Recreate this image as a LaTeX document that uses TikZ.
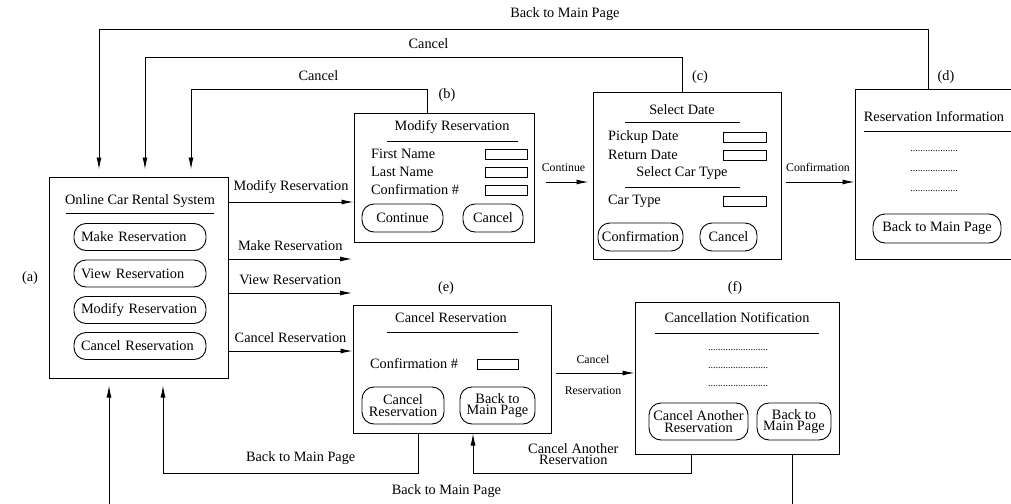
\documentclass[tikz,border=0pt]{standalone}
\usepackage{fontspec}
\setmainfont{Liberation Serif}
\usetikzlibrary{arrows.meta,positioning,calc}

\begin{document}
\begin{tikzpicture}[x=1pt, y=-1pt,
    font=\fontsize{14.3}{11.5}\selectfont,
    screen/.style={rectangle, draw=black, line width=1pt, inner sep=0pt},
    pill/.style={rectangle, draw=black, rounded corners=12pt, line width=0.9pt, align=center, inner sep=0pt},
    field/.style={rectangle, draw=black, line width=0.9pt, minimum width=42pt, minimum height=10pt, inner sep=0pt},
    item/.style={anchor=west, inner sep=0pt},
    dots/.style={font=\fontsize{10}{10}\selectfont, inner sep=0pt},
    small/.style={font=\fontsize{11.8}{12}\selectfont, inner sep=0pt},
    rule/.style={line width=1pt},
    message/.style={->, >={Latex[length=12pt,width=5pt]}, line width=0.9pt},
    lbl/.style={above=8pt, inner sep=0pt, align=center}
]
\useasboundingbox (0,0) rectangle (1011,503);

% Screens
\node[screen, minimum width=179pt, minimum height=201pt] (sysA) at (138.5,277.5) {};
\node[screen, minimum width=180pt, minimum height=129pt] (modB) at (444,177.5) {};
\node[screen, minimum width=188pt, minimum height=167pt] (dateC) at (687,175.5) {};
\node[screen, minimum width=161pt, minimum height=170pt] (infoD) at (935.5,174) {};
\node[screen, minimum width=198pt, minimum height=128pt] (cancelE) at (452,369) {};
\node[screen, minimum width=204pt, minimum height=152pt] (notifyF) at (737,378) {};

% Tags
\node (tagA) at (30,278) {(a)};
\node (tagB) at (447,95) {(b)};
\node (tagC) at (700,77) {(c)};
\node (tagD) at (946,77) {(d)};
\node (tagE) at (446,288) {(e)};
\node (tagF) at (735,288) {(f)};

% (a) main page
\node (titleA) at (140,201) {Online Car Rental System};
\draw[rule] (66,213) -- (214,213);
\node[pill, minimum width=132pt, minimum height=27pt, text width=118pt, align=left] (makeA) at (140,237) {Make Reservation};
\node[pill, minimum width=132pt, minimum height=27pt, text width=118pt, align=left] (viewA) at (140,273.5) {View Reservation};
\node[pill, minimum width=132pt, minimum height=27pt, text width=118pt, align=left] (modifyA) at (140,310) {Modify Reservation};
\node[pill, minimum width=132pt, minimum height=27pt, text width=118pt, align=left] (cancelA) at (140,346) {Cancel Reservation};

% (b) modify
\node (titleB) at (452,127) {Modify Reservation};
\draw[rule] (387,141) -- (518,141);
\node[item] (firstB) at (371,154) {First Name};
\node[item] (lastB) at (371,172) {Last Name};
\node[item] (confB) at (371,190) {Confirmation \#};
\node[field] (firstBoxB) at (506,154) {};
\node[field] (lastBoxB) at (506,172) {};
\node[field] (confBoxB) at (506,190) {};
\node[pill, minimum width=81pt, minimum height=28pt] (contB) at (402.5,218) {Continue};
\node[pill, minimum width=60pt, minimum height=28pt] (cancB) at (493,218) {Cancel};

% (c) date and car type
\node (titleC) at (682,110) {Select Date};
\draw[rule] (625,122) -- (740,122);
\node[item] (pickC) at (608,137) {Pickup Date};
\node[item] (retC) at (608,155) {Return Date};
\node (typeTitleC) at (682,173) {Select Car Type};
\draw[rule] (625,187) -- (740,187);
\node[item] (typeC) at (608,201) {Car Type};
\node[field, minimum width=43pt] (pickBoxC) at (744.5,137) {};
\node[field, minimum width=43pt] (retBoxC) at (744.5,155) {};
\node[field, minimum width=43pt] (typeBoxC) at (744.5,201) {};
\node[pill, minimum width=85pt, minimum height=28pt] (confC) at (640.5,237) {Confirmation};
\node[pill, minimum width=57pt, minimum height=28pt] (cancC) at (728.5,237) {Cancel};

% (d) reservation info
\node (titleD) at (934,117) {Reservation Information};
\draw[rule] (864,131) -- (1016,131);
\node[dots] (dotD1) at (934,151) {...................};
\node[dots] (dotD2) at (934,171) {...................};
\node[dots] (dotD3) at (934,191) {...................};
\node[pill, minimum width=128pt, minimum height=29pt] (backD) at (937,228.5) {Back to Main Page};

% (e) cancel
\node (titleE) at (451,318) {Cancel Reservation};
\draw[rule] (387,332) -- (518,332);
\node[item] (confE) at (370,364) {Confirmation \#};
\node[field, minimum width=41pt] (confBoxE) at (497.5,364) {};
\node[pill, minimum width=82pt, minimum height=37pt] (cancE) at (403,405.5) {Cancel\\Reservation};
\node[pill, minimum width=75pt, minimum height=37pt] (backE) at (497.5,405.5) {Back to\\Main Page};

% (f) notification
\node (titleF) at (737,318) {Cancellation Notification};
\draw[rule] (655,333) -- (819,333);
\node[dots] (dotF1) at (738,350) {........................};
\node[dots] (dotF2) at (738,368) {........................};
\node[dots] (dotF3) at (738,386) {........................};
\node[pill, minimum width=99pt, minimum height=37pt] (anotherF) at (698.5,421.5) {Cancel Another\\Reservation};
\node[pill, minimum width=74pt, minimum height=37pt] (backF) at (794,421.5) {Back to\\Main Page};

% Free ends
\coordinate (makeEnd) at (352,259);
\coordinate (viewEnd) at (352,293);

% Messages
\draw[message] (sysA.east |- 0,202) -- node[lbl] {Modify Reservation} (modB.west |- 0,202);
\draw[message] (sysA.east |- makeEnd) -- node[lbl] {Make Reservation} (makeEnd);
\draw[message] (sysA.east |- viewEnd) -- node[lbl] {View Reservation} (viewEnd);
\draw[message] (sysA.east |- 0,351) -- node[lbl] {Cancel Reservation} (cancelE.west |- 0,351);
\draw[message, shorten <=11pt, shorten >=4pt] (modB.east |- 0,182) -- node[small, above=10pt] {Continue} (dateC.west |- 0,182);
\draw[message, shorten <=4pt] (dateC.east |- 0,182) -- node[small, above=10pt] {Confirmation} (infoD.west |- 0,182);
\draw[message, shorten <=4pt] (cancelE.east |- 0,373) -- node[small, above=9pt] {Cancel} node[small, below=13pt] {Reservation} (notifyF.west |- 0,373);

% Returns
\draw[message, shorten >=7pt] ([xshift=-17pt]modB.north) -- ++(0,-23) -| node[lbl, pos=0.23] {Cancel} ([xshift=52.5pt]sysA.north);
\draw[message, shorten >=7pt] ([xshift=-5pt]dateC.north) -- ++(0,-34) -| node[lbl, pos=0.236] {Cancel} ([xshift=6.5pt]sysA.north);
\draw[message, shorten >=7pt] ([xshift=-7.5pt]infoD.north) -- ++(0,-59) -| node[lbl, pos=0.219] {Back to Main Page} ([xshift=-39.5pt]sysA.north);
\draw[message, shorten >=7pt] ([xshift=-34pt]cancelE.south) -- ++(0,40) -| node[lbl, pos=0.23] {Back to Main Page} ([xshift=24.5pt]sysA.south);
\draw[message] ([xshift=-46pt]notifyF.south) -- ++(0,19) -| node[lbl, pos=0.27] {Cancel Another\\Reservation} ([xshift=21pt]cancelE.south);
\draw[message, shorten >=7pt] ([xshift=55pt]notifyF.south) -- ++(0,52) -| node[lbl, pos=0.253] {Back to Main Page} ([xshift=-29.5pt]sysA.south);

\end{tikzpicture}
\end{document}
